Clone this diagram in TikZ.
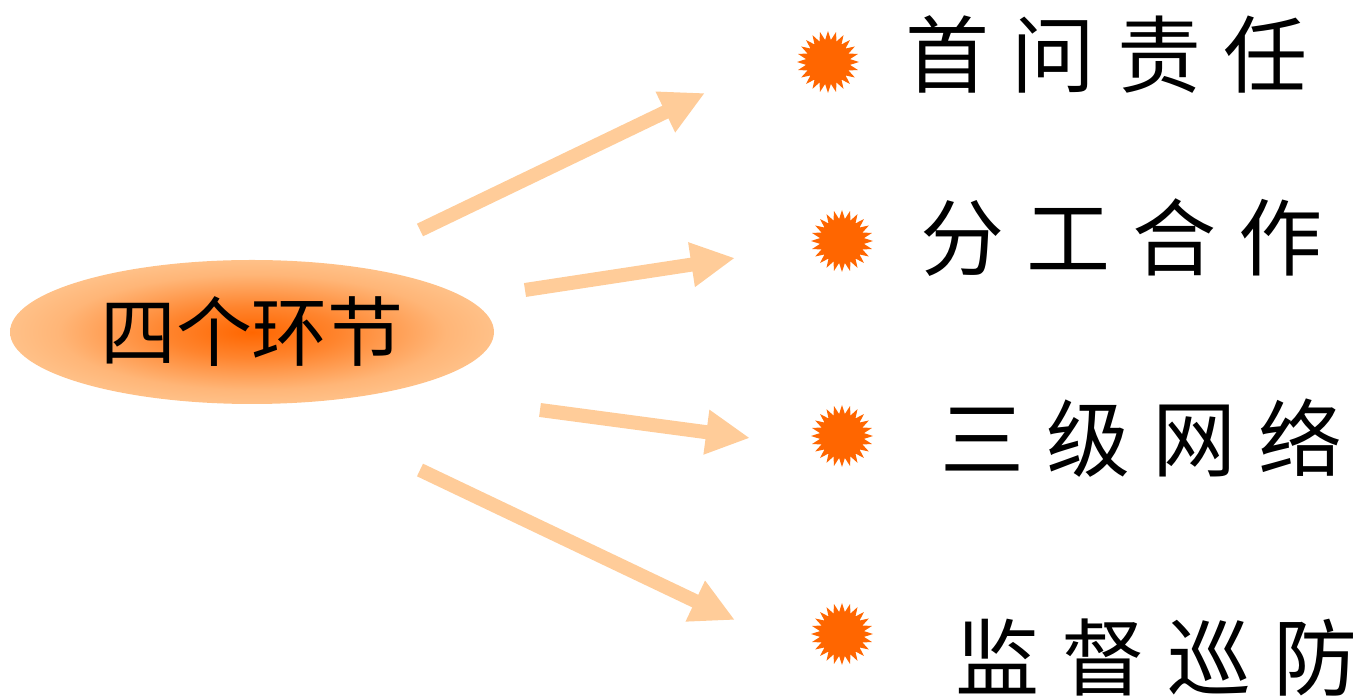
\documentclass[tikz,border=0pt]{standalone}
\usepackage{fontspec}
\newfontfamily\cjk{Noto Sans CJK SC}
\usetikzlibrary{arrows.meta, shapes.geometric}
\definecolor{peach}{RGB}{255,204,153}
\definecolor{burst}{RGB}{255,102,0}
\pgfdeclareradialshading{glow}{\pgfpoint{0bp}{0bp}}{%
  color(0bp)=(burst); color(9bp)=(burst!70!peach); color(20bp)=(burst!22!peach);
  color(30bp)=(peach); color(50bp)=(peach)}
\def\gap{\hspace{11pt}}

\begin{document}
\begin{tikzpicture}[x=0.5pt, y=-0.5pt, line cap=butt,
  fat arrow/.style={draw=peach, line width=7pt, -{Triangle[length=22pt, width=21pt]}},
  sun/.style={star, star points=24, star point ratio=1.4, fill=burst, inner sep=0pt, minimum size=31pt},
  item/.style={anchor=west, inner sep=0pt, font=\cjk\fontsize{42}{50}\selectfont}]
		\useasboundingbox (0,0) rectangle (1362,699);
		
		%Centre
		\node[ellipse, shading=glow, minimum width=242pt, minimum height=72pt, inner sep=0pt,
		  font=\cjk\fontsize{38}{42}\selectfont] (core) at (252,332) {四个环节};
		
		%Bursts
		\node[sun] (s1) at (828,62) {};
		\node[sun] (s2) at (842,241) {};
		\node[sun] (s3) at (842,436) {};
		\node[sun] (s4) at (842,634) {};
		
		%Labels
		\node[item] (t1) at (905,55) {首\gap 问\gap 责\gap 任};
		\node[item] (t2) at (920,238) {分\gap 工\gap 合\gap 作};
		\node[item] (t3) at (940,438) {三\gap 级\gap 网\gap 络};
		\node[item] (t4) at (955,658) {监\gap 督\gap 巡\gap 防};
		
		%Arrow ends
		\coordinate (a1) at (420,230); \coordinate (b1) at (705,93);
		\coordinate (a2) at (525,290); \coordinate (b2) at (735,258);
		\coordinate (a3) at (540,410); \coordinate (b3) at (750,438);
		\coordinate (a4) at (420,470); \coordinate (b4) at (735,620);
		
		%Arrows
		\foreach \i in {1,...,4}
		{
			\draw[fat arrow] (a\i) -- (b\i);
		}
		
	\end{tikzpicture}
\end{document}
